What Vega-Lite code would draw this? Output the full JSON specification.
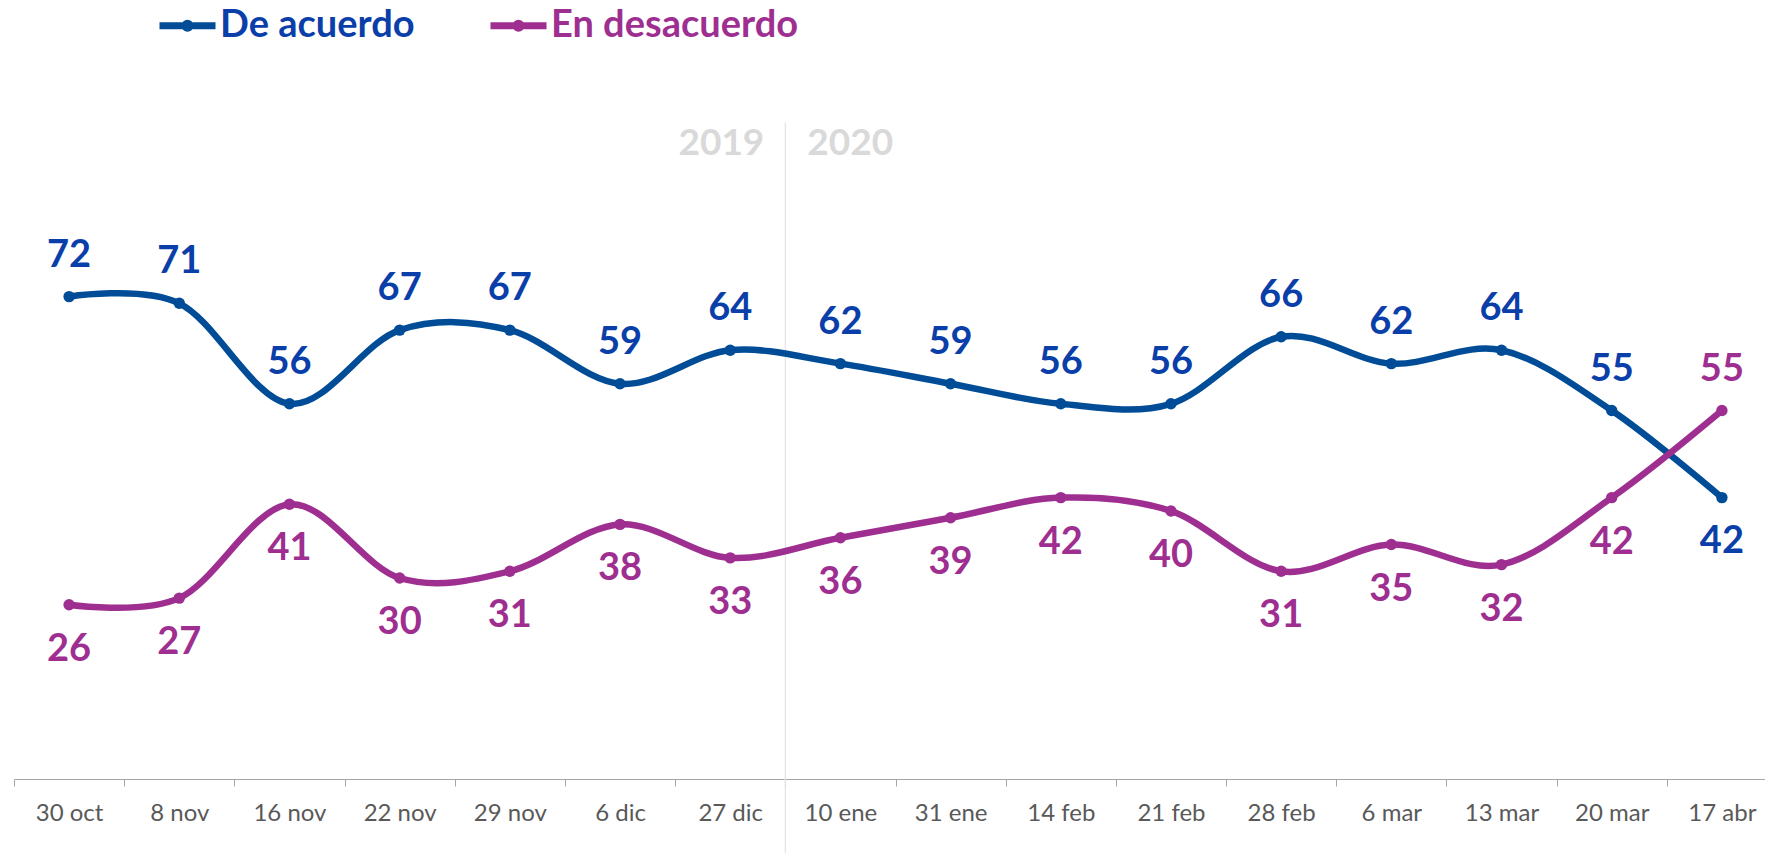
{
  "$schema": "https://vega.github.io/schema/vega-lite/v6.json",
  "width": 1751,
  "height": 670,
  "autosize": "none",
  "padding": {"left": 14, "top": 109, "right": 0, "bottom": 74},
  "background": "white",
  "config": {"view": {"stroke": null}, "font": "Lato"},
  "datasets": {
    "polls": [
      {"date": "30 oct", "series": "De acuerdo", "value": 72},
      {"date": "8 nov", "series": "De acuerdo", "value": 71},
      {"date": "16 nov", "series": "De acuerdo", "value": 56},
      {"date": "22 nov", "series": "De acuerdo", "value": 67},
      {"date": "29 nov", "series": "De acuerdo", "value": 67},
      {"date": "6 dic", "series": "De acuerdo", "value": 59},
      {"date": "27 dic", "series": "De acuerdo", "value": 64},
      {"date": "10 ene", "series": "De acuerdo", "value": 62},
      {"date": "31 ene", "series": "De acuerdo", "value": 59},
      {"date": "14 feb", "series": "De acuerdo", "value": 56},
      {"date": "21 feb", "series": "De acuerdo", "value": 56},
      {"date": "28 feb", "series": "De acuerdo", "value": 66},
      {"date": "6 mar", "series": "De acuerdo", "value": 62},
      {"date": "13 mar", "series": "De acuerdo", "value": 64},
      {"date": "20 mar", "series": "De acuerdo", "value": 55},
      {"date": "17 abr", "series": "De acuerdo", "value": 42},
      {"date": "30 oct", "series": "En desacuerdo", "value": 26},
      {"date": "8 nov", "series": "En desacuerdo", "value": 27},
      {"date": "16 nov", "series": "En desacuerdo", "value": 41},
      {"date": "22 nov", "series": "En desacuerdo", "value": 30},
      {"date": "29 nov", "series": "En desacuerdo", "value": 31},
      {"date": "6 dic", "series": "En desacuerdo", "value": 38},
      {"date": "27 dic", "series": "En desacuerdo", "value": 33},
      {"date": "10 ene", "series": "En desacuerdo", "value": 36},
      {"date": "31 ene", "series": "En desacuerdo", "value": 39},
      {"date": "14 feb", "series": "En desacuerdo", "value": 42},
      {"date": "21 feb", "series": "En desacuerdo", "value": 40},
      {"date": "28 feb", "series": "En desacuerdo", "value": 31},
      {"date": "6 mar", "series": "En desacuerdo", "value": 35},
      {"date": "13 mar", "series": "En desacuerdo", "value": 32},
      {"date": "20 mar", "series": "En desacuerdo", "value": 42},
      {"date": "17 abr", "series": "En desacuerdo", "value": 55}
    ],
    "divider": [
      {"date": "10 ene", "from": 98, "to": -11}
    ],
    "years": [
      {"date": "10 ene", "year": "2019"},
      {"date": "10 ene", "year": "2020"}
    ]
  },
  "layer": [
    {
      "data": {"name": "divider"},
      "mark": {"type": "rule", "color": "#E3E3E3", "strokeWidth": 1.2},
      "encoding": {
        "x": {
          "field": "date",
          "type": "ordinal",
          "bandPosition": 0,
          "sort": null,
          "scale": {
            "type": "band",
            "domain": ["30 oct", "8 nov", "16 nov", "22 nov", "29 nov", "6 dic", "27 dic", "10 ene", "31 ene", "14 feb", "21 feb", "28 feb", "6 mar", "13 mar", "20 mar", "17 abr"],
            "range": [0, 1763],
            "paddingInner": 0,
            "paddingOuter": 0
          },
          "axis": {
            "title": null,
            "tickBand": "extent",
            "labelAngle": 0,
            "labelFont": "Lato",
            "labelFontSize": 24,
            "labelColor": "#595959",
            "labelPadding": 15,
            "domainColor": "#A6A6A6",
            "tickColor": "#A6A6A6",
            "tickSize": 7,
            "grid": false
          }
        },
        "y": {"field": "from", "type": "quantitative", "scale": {"domain": [0, 100]}, "axis": null},
        "y2": {"field": "to"}
      }
    },
    {
      "data": {"name": "polls"},
      "mark": {"type": "line", "interpolate": "cardinal", "tension": 0, "strokeWidth": 6.5, "strokeCap": "round"},
      "encoding": {
        "x": {"field": "date", "type": "ordinal"},
        "y": {"field": "value", "type": "quantitative"},
        "color": {
          "field": "series",
          "type": "nominal",
          "scale": {"domain": ["De acuerdo", "En desacuerdo"], "range": ["#004C97", "#9E2F91"]},
          "legend": {
            "title": null,
            "orient": "none",
            "legendX": 142,
            "legendY": -115,
            "direction": "horizontal",
            "labelFont": "Lato",
            "labelFontSize": 38,
            "labelFontWeight": "bold",
            "labelColor": {"expr": "datum.value == 'De acuerdo' ? '#0A3EA8' : '#9E2F91'"},
            "symbolType": "M-1,0L1,0M0.09,0A0.09,0.09,0,1,1,-0.09,0A0.09,0.09,0,1,1,0.09,0",
            "symbolSize": 3136,
            "symbolStrokeWidth": 7,
            "labelOffset": 1,
            "columnPadding": 61,
            "labelLimit": 400
          }
        }
      }
    },
    {
      "data": {"name": "years"},
      "transform": [{"filter": "datum.year == '2019'"}],
      "mark": {"type": "text", "align": "right", "baseline": "middle", "dx": -21, "font": "Lato", "fontWeight": "bold", "fontSize": 37, "color": "#D9D9D9"},
      "encoding": {
        "x": {"field": "date", "type": "ordinal", "bandPosition": 0},
        "y": {"datum": 94.8},
        "text": {"field": "year", "type": "nominal"}
      }
    },
    {
      "data": {"name": "years"},
      "transform": [{"filter": "datum.year == '2020'"}],
      "mark": {"type": "text", "align": "left", "baseline": "middle", "dx": 22, "font": "Lato", "fontWeight": "bold", "fontSize": 37, "color": "#D9D9D9"},
      "encoding": {
        "x": {"field": "date", "type": "ordinal", "bandPosition": 0},
        "y": {"datum": 94.8},
        "text": {"field": "year", "type": "nominal"}
      }
    },
    {
      "data": {"name": "polls"},
      "mark": {"type": "point", "filled": true, "opacity": 1, "size": 130},
      "encoding": {
        "x": {"field": "date", "type": "ordinal"},
        "y": {"field": "value", "type": "quantitative"},
        "color": {"field": "series", "type": "nominal", "legend": null}
      }
    },
    {
      "data": {"name": "polls"},
      "transform": [{"filter": "datum.series == 'De acuerdo' && datum.date != '17 abr'"}],
      "mark": {"type": "text", "baseline": "middle", "dy": -41, "font": "Lato", "fontWeight": "bold", "fontSize": 38, "color": "#0A3EA8"},
      "encoding": {
        "x": {"field": "date", "type": "ordinal"},
        "y": {"field": "value", "type": "quantitative"},
        "text": {"field": "value", "type": "quantitative"}
      }
    },
    {
      "data": {"name": "polls"},
      "transform": [{"filter": "datum.series == 'De acuerdo' && datum.date == '17 abr'"}],
      "mark": {"type": "text", "baseline": "middle", "dy": 44, "font": "Lato", "fontWeight": "bold", "fontSize": 38, "color": "#0A3EA8"},
      "encoding": {
        "x": {"field": "date", "type": "ordinal"},
        "y": {"field": "value", "type": "quantitative"},
        "text": {"field": "value", "type": "quantitative"}
      }
    },
    {
      "data": {"name": "polls"},
      "transform": [{"filter": "datum.series == 'En desacuerdo' && datum.date != '17 abr'"}],
      "mark": {"type": "text", "baseline": "middle", "dy": 45, "font": "Lato", "fontWeight": "bold", "fontSize": 38, "color": "#9E2F91"},
      "encoding": {
        "x": {"field": "date", "type": "ordinal"},
        "y": {"field": "value", "type": "quantitative"},
        "text": {"field": "value", "type": "quantitative"}
      }
    },
    {
      "data": {"name": "polls"},
      "transform": [{"filter": "datum.series == 'En desacuerdo' && datum.date == '17 abr'"}],
      "mark": {"type": "text", "baseline": "middle", "dy": -41, "font": "Lato", "fontWeight": "bold", "fontSize": 38, "color": "#9E2F91"},
      "encoding": {
        "x": {"field": "date", "type": "ordinal"},
        "y": {"field": "value", "type": "quantitative"},
        "text": {"field": "value", "type": "quantitative"}
      }
    }
  ]
}
